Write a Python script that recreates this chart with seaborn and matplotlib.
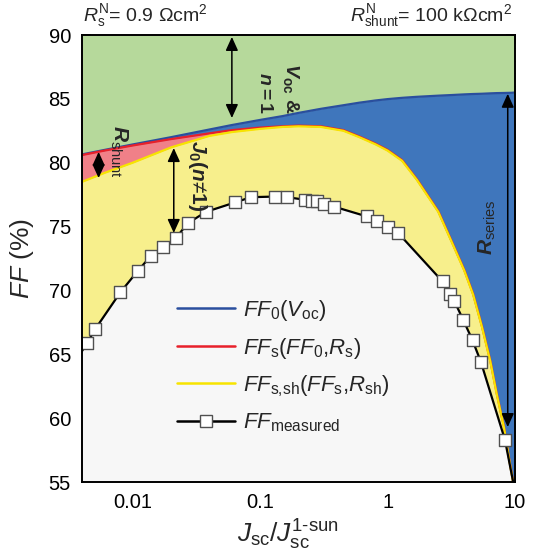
import matplotlib
matplotlib.use("Agg")
import matplotlib.pyplot as plt
import seaborn as sns
import pandas as pd
from matplotlib.lines import Line2D
from matplotlib.ticker import FixedLocator, FixedFormatter, LogLocator, NullFormatter, MultipleLocator

# ---------------- data ----------------
J_grid = [0.004, 0.006, 0.01, 0.02, 0.04, 0.06, 0.1, 0.15, 0.2, 0.3, 0.45, 0.6, 0.8,
          1.0, 1.3, 1.7, 2.5, 3.2, 4.0, 4.7, 5.5, 6.4, 7.2, 8.2, 9.0, 9.6, 10.0]
FF0 = [80.65, 81.0, 81.43, 82.0, 82.6, 82.95, 83.35, 83.65, 83.9, 84.22, 84.5, 84.7, 84.87,
       84.98, 85.08, 85.16, 85.25, 85.3, 85.35, 85.38, 85.4, 85.43, 85.45, 85.46, 85.47, 85.48, 85.5]
FF_s = [80.6, 80.95, 81.35, 81.85, 82.3, 82.55, 82.75, 82.85, 82.9, 82.85, 82.55, 82.05, 81.5,
        81.0, 80.2, 78.7, 76.2, 73.8, 71.6, 69.7, 67.2, 64.5, 61.9, 59.3, 56.8, 55.2, 54.0]
FF_sh = [78.5, 79.2, 80.0, 81.2, 82.1, 82.4, 82.65, 82.8, 82.85, 82.8, 82.5, 82.0, 81.45,
         80.95, 80.15, 78.65, 76.15, 73.75, 71.55, 69.65, 67.15, 64.45, 61.85, 59.25, 56.75, 55.15, 53.95]

meas_J = [0.0044, 0.0051, 0.0080, 0.0110, 0.0139, 0.0173, 0.0218, 0.0270, 0.0375, 0.064,
          0.0845, 0.131, 0.162, 0.226, 0.255, 0.281, 0.315, 0.383, 0.684, 0.82, 1.01, 1.21,
          2.70, 3.10, 3.33, 3.92, 4.64, 5.40, 8.34]
meas_FF = [65.9, 67.0, 69.85, 71.55, 72.7, 73.4, 74.1, 75.25, 76.15, 76.9,
           77.3, 77.35, 77.3, 77.1, 77.0, 77.0, 76.8, 76.55, 75.8, 75.45, 75.0, 74.5,
           70.7, 69.7, 69.2, 67.7, 66.1, 64.4, 58.3]
# measured line continues beyond the plot frame on both sides
meas_line_J = [0.0038] + meas_J + [10.3]
meas_line_FF = [64.9] + meas_FF + [53.6]

x_ticks = [0.01, 0.1, 1, 10]
x_ticklabels = ["0.01", "0.1", "1", "10"]
y_ticks = [55, 60, 65, 70, 75, 80, 85, 90]

# ---------------- style ----------------
sns.set_theme(style="ticks")
plt.rcParams["font.family"] = ["Liberation Sans", "DejaVu Sans"]
plt.rcParams["mathtext.fontset"] = "custom"
plt.rcParams["mathtext.rm"] = "Liberation Sans"
plt.rcParams["mathtext.it"] = "Liberation Sans:italic"
plt.rcParams["mathtext.bf"] = "Liberation Sans:bold"
plt.rcParams["mathtext.bfit"] = "Liberation Sans:italic:bold"

GREEN = "#b6d99b"
BLUE_F = "#3f76bc"
BLUE_L = "#2a4f9e"
RED_F = "#f08088"
RED_L = "#e8202a"
YEL_F = "#f7ef8c"
YEL_L = "#f7e400"
BG = "#f7f7f7"

W, H = 537, 558
fig = plt.figure(figsize=(W / 100, H / 100), dpi=100)
L, R, T, B = 82, 515, 35, 482
ax = fig.add_axes([L / W, 1 - B / H, (R - L) / W, (B - T) / H])
ax.set_facecolor(BG)
ax.set_xscale("log")
ax.set_xlim(0.004, 10)
ax.set_ylim(55, 90)

# layered fills
ax.fill_between(J_grid, 50, 90, color=GREEN, lw=0, zorder=1)
ax.fill_between(J_grid, 50, FF0, color=BLUE_F, lw=0, zorder=2)
ax.fill_between(J_grid, 50, FF_s, color=RED_F, lw=0, zorder=3)
ax.fill_between(J_grid, 50, FF_sh, color=YEL_F, lw=0, zorder=4)
ax.fill_between(meas_line_J, 50, meas_line_FF, color=BG, lw=0, zorder=5)

df = pd.DataFrame({"J": J_grid, "FF0": FF0, "FFs": FF_s, "FFsh": FF_sh})
sns.lineplot(data=df, x="J", y="FF0", color=BLUE_L, lw=1.6, ax=ax, zorder=6, sort=False)
sns.lineplot(data=df, x="J", y="FFs", color=RED_L, lw=1.6, ax=ax, zorder=7, sort=False)
sns.lineplot(data=df, x="J", y="FFsh", color=YEL_L, lw=1.6, ax=ax, zorder=8, sort=False)
sns.lineplot(x=meas_line_J, y=meas_line_FF, color="black", lw=1.6, ax=ax, zorder=9, sort=False)
sns.scatterplot(x=meas_J, y=meas_FF, marker="s", s=72, color="white", edgecolor="#505050",
                linewidth=1.0, ax=ax, zorder=10)

# arrows
def darrow(x, y1, y2):
    ax.annotate("", xy=(x, y2), xytext=(x, y1), zorder=11,
                arrowprops=dict(arrowstyle="<|-|>,head_length=0.55,head_width=0.25",
                                color="black", lw=1.1, shrinkA=0, shrinkB=0, mutation_scale=15))

darrow(0.06, 89.85, 83.5)
darrow(0.0054, 80.85, 78.8)
darrow(0.021, 81.15, 74.5)
darrow(8.77, 85.4, 59.3)

def axfrac(px, py):
    return (px - L) / (R - L), (B - py) / (B - T)

ax.text(*axfrac(291, 63), r"$\mathbfit{V}_\mathbf{oc}\ \mathbf{&}$",
        transform=ax.transAxes, rotation=270, ha="center", va="top", fontsize=14, zorder=12)
ax.text(*axfrac(264, 72), r"$\mathbfit{n}\mathbf{{=}1}$",
        transform=ax.transAxes, rotation=270, ha="center", va="top", fontsize=14, zorder=12)
ax.text(*axfrac(119, 151), r"$\mathbfit{R}_\mathrm{shunt}$", transform=ax.transAxes,
        rotation=270, ha="center", va="center", fontsize=15, zorder=12)
ax.text(*axfrac(197, 176), r"$\mathbfit{J}_\mathbf{0}\mathbf{(}\mathbfit{n}\text{≠}\mathbf{1)}$",
        transform=ax.transAxes, rotation=270, ha="center", va="center", fontsize=15, zorder=12,
        fontweight="bold")
ax.text(*axfrac(487, 227), r"$\mathbfit{R}_\mathrm{series}$", transform=ax.transAxes,
        rotation=90, ha="center", va="center", fontsize=15, zorder=12)

# ticks
ax.xaxis.set_major_locator(FixedLocator(x_ticks))
ax.xaxis.set_major_formatter(FixedFormatter(x_ticklabels))
ax.xaxis.set_minor_locator(LogLocator(base=10, subs=range(2, 10)))
ax.xaxis.set_minor_formatter(NullFormatter())
ax.yaxis.set_major_locator(FixedLocator(y_ticks))
ax.yaxis.set_minor_locator(MultipleLocator(1))
ax.tick_params(which="both", direction="in", top=True, right=True, colors="black",
               labelsize=14.5, pad=8)
ax.tick_params(which="major", length=6.5, width=1.1)
ax.tick_params(which="minor", length=3.5, width=1.0)
for sp in ax.spines.values():
    sp.set_linewidth(1.4)
    sp.set_color("black")
    sp.set_zorder(20)

ax.set_xlabel(r"$\mathit{J}_\mathrm{sc}/\mathit{J}_\mathrm{sc}^\mathrm{1\text{-}sun}$", fontsize=19)
ax.xaxis.set_label_coords((288 - L) / (R - L), -0.08, transform=ax.transAxes)
ax.xaxis.label.set_va("top")
ax.set_ylabel(r"$\mathit{FF}$ (%)", fontsize=19, labelpad=9)

# legend
handles = [
    Line2D([], [], color=BLUE_L, lw=1.8),
    Line2D([], [], color=RED_L, lw=1.8),
    Line2D([], [], color=YEL_L, lw=1.8),
    Line2D([], [], color="black", lw=1.8, marker="s", ms=8.5, mfc="white", mec="#505050", mew=1.0),
]
labels = [
    r"$\mathit{FF}_\mathrm{0}(\mathit{V}_\mathrm{oc})$",
    r"$\mathit{FF}_\mathrm{s}(\mathit{FF}_\mathrm{0}\text{,}\mathit{R}_\mathrm{s})$",
    r"$\mathit{FF}_\text{s,sh}(\mathit{FF}_\mathrm{s}\text{,}\mathit{R}_\mathrm{sh})$",
    r"$\mathit{FF}_\mathrm{measured}$",
]
leg = ax.legend(handles, labels, loc="upper left", bbox_to_anchor=axfrac(177, 298),
                frameon=False, fontsize=16, handlelength=2.6, handletextpad=0.35,
                labelspacing=0.57, borderpad=0, borderaxespad=0, numpoints=1)
leg.set_zorder(15)

# top annotations
fig.text(83 / W, 1 - 16 / H, r"$\mathit{R}_\mathrm{s}^\mathrm{N}$= 0.9 Ωcm$^\mathrm{2}$",
         ha="left", va="center", fontsize=14)
fig.text(512 / W, 1 - 16 / H, r"$\mathit{R}_\mathrm{shunt}^\mathrm{N}$= 100 kΩcm$^\mathrm{2}$",
         ha="right", va="center", fontsize=14)

fig.savefig("out.png", dpi=100)
